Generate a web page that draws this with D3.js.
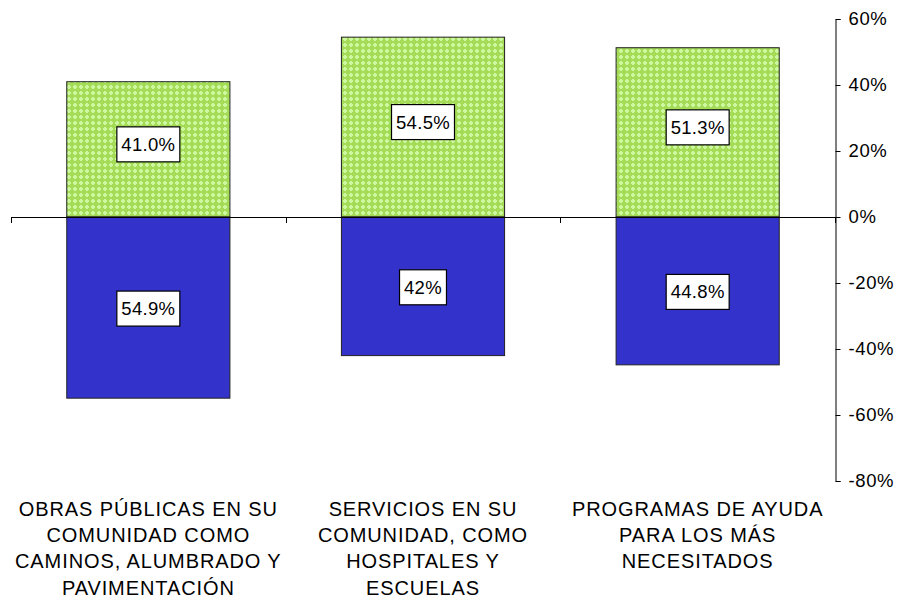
<!DOCTYPE html>
<html><head><meta charset="utf-8">
<script src="https://cdn.jsdelivr.net/npm/d3@7"></script>
<style>html,body{margin:0;padding:0;background:#fff;}svg{display:block;font-family:"Liberation Sans",Arial,sans-serif;}</style>
</head><body>
<svg id="c" width="897" height="598"></svg>
<script>
const categories = [
  ["OBRAS PÚBLICAS EN SU","COMUNIDAD COMO","CAMINOS, ALUMBRADO Y","PAVIMENTACIÓN"],
  ["SERVICIOS EN SU","COMUNIDAD, COMO","HOSPITALES Y","ESCUELAS"],
  ["PROGRAMAS DE AYUDA","PARA LOS MÁS","NECESITADOS"]
];
const positiveValues = [41.0, 54.5, 51.3];
const negativeValues = [54.9, 42, 44.8];
const positiveLabels = ["41.0%","54.5%","51.3%"];
const negativeLabels = ["54.9%","42%","44.8%"];
const yTicks = [60,40,20,0,-20,-40,-60,-80];

const svg = d3.select("#c");
const defs = svg.append("defs");
const pat = defs.append("pattern").attr("id","hatch").attr("patternUnits","userSpaceOnUse")
  .attr("width",6).attr("height",6);
pat.append("rect").attr("width",6).attr("height",6).attr("fill","#a4dc58");
pat.append("rect").attr("x",1).attr("y",2).attr("width",4).attr("height",2).attr("fill","#cdf8a0");
pat.append("rect").attr("x",2).attr("y",1).attr("width",2).attr("height",4).attr("fill","#cdf8a0");

const idx = categories.map((d,i)=>i);
const x = d3.scaleBand().domain(idx).range([11,835]).paddingInner(0).paddingOuter(0);
const y = d3.scaleLinear().domain([-80,60]).range([481,19]);
const barW = x.bandwidth()*0.594;
const fs = 18.5;

// bars
const g = svg.append("g");
g.selectAll(".pos").data(positiveValues).join("rect")
  .attr("x",(d,i)=>x(i)+(x.bandwidth()-barW)/2).attr("width",barW)
  .attr("y",d=>y(d)).attr("height",d=>y(0)-y(d))
  .attr("fill","url(#hatch)").attr("stroke","#222").attr("stroke-width",1);
g.selectAll(".neg").data(negativeValues).join("rect")
  .attr("x",(d,i)=>x(i)+(x.bandwidth()-barW)/2).attr("width",barW)
  .attr("y",y(0)).attr("height",d=>y(-d)-y(0))
  .attr("fill","#3333cc").attr("stroke","#222").attr("stroke-width",1);

// category axis (horizontal at 0)
const cat = svg.append("g");
cat.append("line").attr("x1",x.range()[0]).attr("x2",x.range()[1]).attr("y1",y(0)+0.5).attr("y2",y(0)+0.5)
  .attr("stroke","#000");
const bounds = idx.map(i=>x(i)).concat([x.range()[1]]);
cat.selectAll(".tk").data(bounds).join("line")
  .attr("x1",d=>Math.round(d)+0.5).attr("x2",d=>Math.round(d)+0.5)
  .attr("y1",y(0)).attr("y2",y(0)+6).attr("stroke","#000");

// y axis on right
const ax = svg.append("g").attr("transform",`translate(${835.5},0)`)
  .call(d3.axisRight(y).tickValues(yTicks).tickSize(5).tickSizeOuter(5).tickFormat(d=>d+"%"));
ax.select(".domain").attr("stroke","#000");
ax.selectAll(".tick line").attr("stroke","#000");
ax.selectAll(".tick text").attr("fill","#000").attr("font-size",fs).attr("letter-spacing",0.6)
  .attr("font-family","'Liberation Sans',Arial,sans-serif").attr("x",13);

// data labels
function label(cx, cy, txt){
  const gg = svg.append("g");
  const r = gg.append("rect");
  const t = gg.append("text").attr("x",cx).attr("y",cy).attr("text-anchor","middle")
    .attr("dominant-baseline","central").attr("font-size",fs).attr("letter-spacing",0.3)
    .attr("fill","#000").text(txt);
  const w = t.node().getComputedTextLength();
  r.attr("x",cx-w/2-4.5).attr("y",cy-17.5).attr("width",w+9).attr("height",35)
    .attr("fill","#fff").attr("stroke","#000").attr("stroke-width",1.2);
}
positiveValues.forEach((v,i)=>{
  label(x(i)+x.bandwidth()/2, (y(v)+y(0))/2-5, positiveLabels[i]);
});
negativeValues.forEach((v,i)=>{
  label(x(i)+x.bandwidth()/2, (y(-v)+y(0))/2+1, negativeLabels[i]);
});

// category labels
categories.forEach((lines,i)=>{
  const t = svg.append("text").attr("text-anchor","middle").attr("font-size",20)
    .attr("letter-spacing",0.9).attr("fill","#000");
  lines.forEach((l,j)=>{
    t.append("tspan").attr("x",x(i)+x.bandwidth()/2).attr("y",516+j*26.2).text(l);
  });
});
</script>
</body></html>
